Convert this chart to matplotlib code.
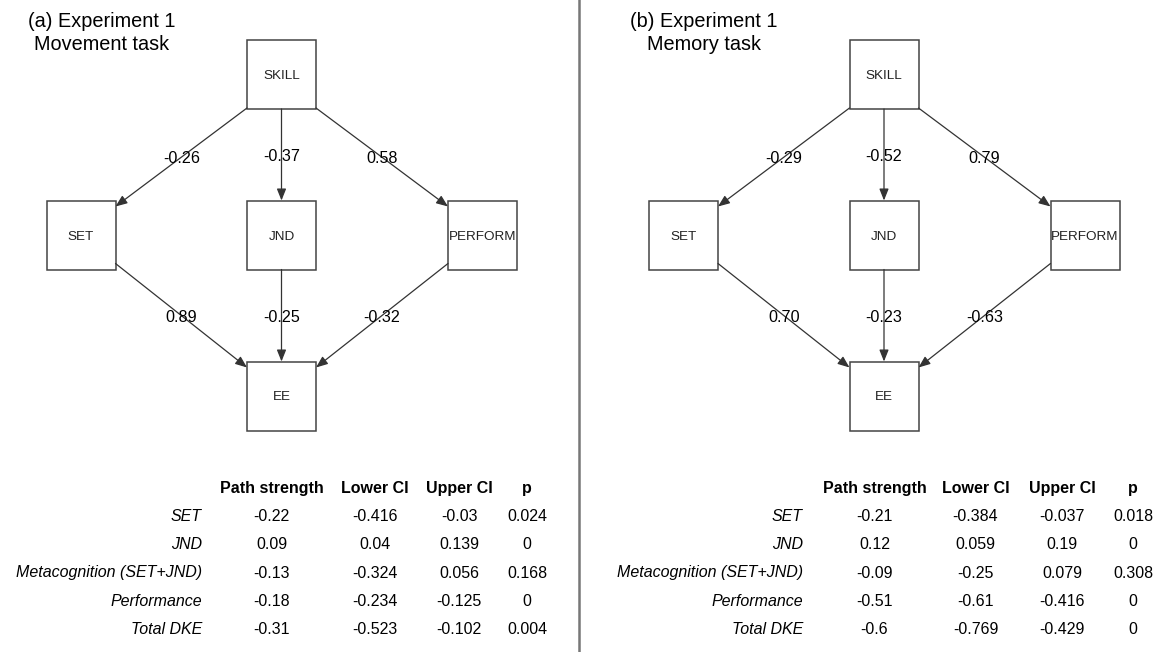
import matplotlib
matplotlib.use("Agg")
import matplotlib.pyplot as plt
from matplotlib.patches import Rectangle

plt.rcParams['font.family'] = ['Liberation Sans', 'DejaVu Sans']

## path coefficients (SKILL->SET, SKILL->JND, SKILL->PERFORM, SET->EE, JND->EE, PERFORM->EE)
titles = ["(a) Experiment 1\nMovement task", "(b) Experiment 1\nMemory task"]
paths_a = [-0.26, -0.37, 0.58, 0.89, -0.25, -0.32]
paths_b = [-0.29, -0.52, 0.79, 0.70, -0.23, -0.63]

## indirect effect tables
effects = ["SET", "JND", "Metacognition (SET+JND)", "Performance", "Total DKE"]
columns = ["Path strength", "Lower CI", "Upper CI", "p"]

strength_a = [-0.22, 0.09, -0.13, -0.18, -0.31]
lower_a = [-0.416, 0.04, -0.324, -0.234, -0.523]
upper_a = [-0.03, 0.139, 0.056, -0.125, -0.102]
p_a = [0.024, 0, 0.168, 0, 0.004]

strength_b = [-0.21, 0.12, -0.09, -0.51, -0.6]
lower_b = [-0.384, 0.059, -0.25, -0.61, -0.769]
upper_b = [-0.037, 0.19, 0.079, -0.416, -0.429]
p_b = [0.018, 0, 0.308, 0, 0]

fig = plt.figure(figsize=(11.58, 6.52), dpi=100)
ax = fig.add_axes([0, 0, 1, 1])
ax.set_xlim(0, 1158)
ax.set_ylim(652, 0)
ax.axis('off')

# separator between the two panels
ax.plot([579, 579], [0, 652], color="#777777", lw=1.8)

h = 34.5  # half box size
line_col = "#333333"

panels = [
    (0, titles[0], paths_a, [strength_a, lower_a, upper_a, p_a], 202, [271.5, 375, 459, 527]),
    (602.5, titles[1], paths_b, [strength_b, lower_b, upper_b, p_b], 803, [874.5, 975.5, 1062, 1133]),
]

for dx, title, paths, table, label_x, col_x in panels:
    ax.text(101.5 + dx, 33, title, ha="center", va="center", fontsize=14.3,
            multialignment="center", linespacing=1.28)

    nodes = {"SKILL": (281.5 + dx, 74.5), "SET": (81 + dx, 235), "JND": (281.5 + dx, 235),
             "PERFORM": (482.5 + dx, 235), "EE": (281.5 + dx, 396)}
    for name, (cx, cy) in nodes.items():
        ax.add_patch(Rectangle((cx - h, cy - h), 2 * h, 2 * h, fill=False,
                               edgecolor="#444444", lw=1.1))
        ax.text(cx, cy, name, ha="center", va="center_baseline", fontsize=9.7, color="#222222")

    sk, st, jn, pf, ee = (nodes[k] for k in ["SKILL", "SET", "JND", "PERFORM", "EE"])
    edges = [
        ((sk[0] - h, sk[1] + h - 1), (st[0] + h, st[1] - h + 6)),
        ((sk[0], sk[1] + h), (jn[0], jn[1] - h)),
        ((sk[0] + h, sk[1] + h - 1), (pf[0] - h, pf[1] - h + 6)),
        ((st[0] + h, st[1] + h - 6), (ee[0] - h, ee[1] - h + 6)),
        ((jn[0], jn[1] + h), (ee[0], ee[1] - h)),
        ((pf[0] - h, pf[1] + h - 6), (ee[0] + h, ee[1] - h + 6)),
    ]
    for (start, end), val in zip(edges, paths):
        ax.annotate("", xy=end, xytext=start,
                    arrowprops=dict(arrowstyle="-|>,head_length=0.5,head_width=0.2",
                                    mutation_scale=14, color=line_col, lw=0.9,
                                    shrinkA=0, shrinkB=0))
        mx = (start[0] + end[0]) / 2
        my = (start[1] + end[1]) / 2
        ax.text(mx, my, "%.2f" % val, ha="center", va="center_baseline", fontsize=11.6)

    # table of effects
    row_y = [515, 543, 571.5, 600, 628]
    for cx, col in zip(col_x, columns):
        ax.text(cx, 487, col, ha="center", va="center_baseline", fontsize=11.5, fontweight="bold")
    for i, eff in enumerate(effects):
        ax.text(label_x, row_y[i], eff, ha="right", va="center_baseline", fontsize=11.5, style="italic")
        for cx, vals in zip(col_x, table):
            ax.text(cx, row_y[i], "{:g}".format(vals[i]), ha="center", va="center_baseline",
                    fontsize=11.5)

fig.savefig("out.png", dpi=100)
